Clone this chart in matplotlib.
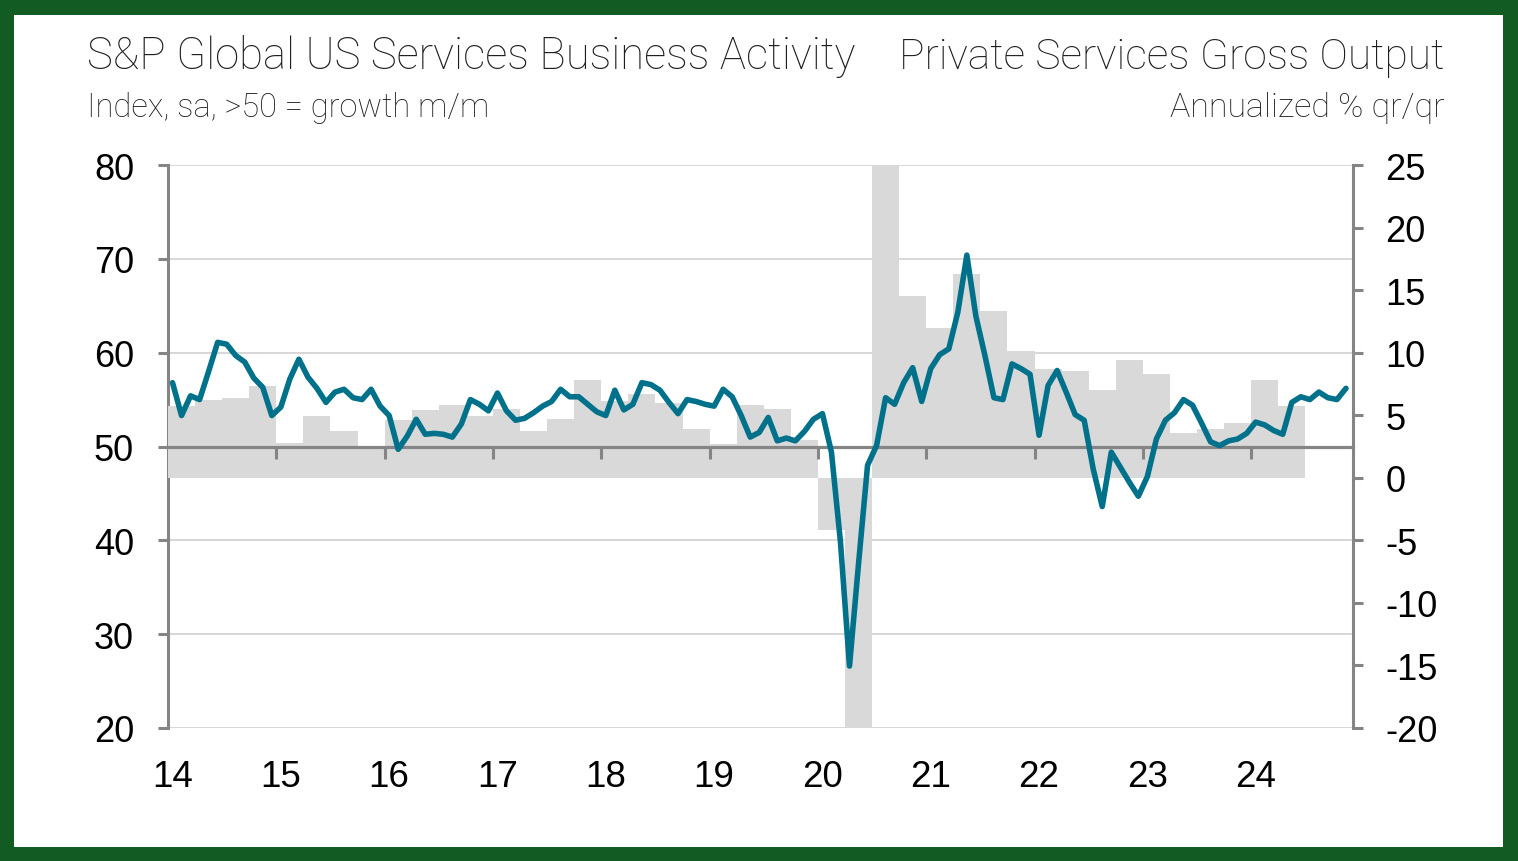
import matplotlib
matplotlib.use("Agg")
import matplotlib.pyplot as plt
from matplotlib.patches import Rectangle
from matplotlib.ticker import NullFormatter

plt.rcParams["axes.unicode_minus"] = False

# ---------------- data ----------------
start_year = 2014
# S&P Global US Services Business Activity Index, monthly Jan 2014 - Nov 2024
pmi_2014 = [56.8, 53.3, 55.4, 55.0, 58.0, 61.1, 60.9, 59.7, 59.0, 57.3, 56.3, 53.3]
pmi_2015 = [54.2, 57.2, 59.3, 57.4, 56.2, 54.7, 55.8, 56.1, 55.2, 55.0, 56.1, 54.3]
pmi_2016 = [53.3, 49.7, 51.1, 52.9, 51.3, 51.4, 51.3, 51.0, 52.4, 55.0, 54.5, 53.8]
pmi_2017 = [55.7, 53.8, 52.8, 53.0, 53.6, 54.3, 54.8, 56.1, 55.3, 55.3, 54.5, 53.7]
pmi_2018 = [53.3, 56.0, 53.9, 54.5, 56.8, 56.6, 56.0, 54.7, 53.5, 55.0, 54.8, 54.5]
pmi_2019 = [54.3, 56.1, 55.3, 53.3, 51.0, 51.5, 53.1, 50.6, 50.9, 50.6, 51.6, 52.9]
pmi_2020 = [53.5, 49.4, 39.8, 26.6, 37.5, 48.0, 50.1, 55.2, 54.5, 56.8, 58.4, 54.8]
pmi_2021 = [58.3, 59.8, 60.4, 64.3, 70.4, 63.9, 59.7, 55.2, 55.0, 58.8, 58.3, 57.7]
pmi_2022 = [51.2, 56.5, 58.1, 55.8, 53.4, 52.8, 47.6, 43.6, 49.4, 47.8, 46.2, 44.7]
pmi_2023 = [46.8, 50.8, 52.8, 53.6, 55.0, 54.4, 52.5, 50.5, 50.1, 50.6, 50.8, 51.4]
pmi_2024 = [52.6, 52.3, 51.7, 51.3, 54.7, 55.3, 55.0, 55.8, 55.2, 55.0, 56.2]
pmi = (pmi_2014 + pmi_2015 + pmi_2016 + pmi_2017 + pmi_2018 + pmi_2019 +
       pmi_2020 + pmi_2021 + pmi_2022 + pmi_2023 + pmi_2024)

# Private services gross output, annualized % q/q, 2014Q1 - 2024Q2
gross_output = [5.7, 6.2, 6.35, 7.3,
                2.8, 4.9, 3.7, 2.5,
                4.6, 5.4, 5.8, 4.9,
                5.5, 3.7, 4.7, 7.8,
                6.1, 6.7, 6.0, 3.9,
                2.7, 5.8, 5.5, 3.0,
                -4.15, -25.0, 35.0, 14.5,
                12.0, 16.3, 13.3, 10.1,
                8.7, 8.5, 7.0, 9.4,
                8.3, 3.6, 3.9, 4.4,
                7.8, 5.7]

year_labels = ["14", "15", "16", "17", "18", "19", "20", "21", "22", "23", "24"]
left_ticks = [20, 30, 40, 50, 60, 70, 80]
right_ticks = [-20, -15, -10, -5, 0, 5, 10, 15, 20, 25]

title_left = "S&P Global US Services Business Activity"
subtitle_left = "Index, sa, >50 = growth m/m"
title_right = "Private Services Gross Output"
subtitle_right = "Annualized % qr/qr"

# ---------------- style ----------------
W, H = 1518, 862
GREEN = "#125b23"
TEAL = "#00718a"
BAR = "#d9d9d9"
GRID = "#d4d4d4"
AXIS = "#858585"
TXT = "#1e1e1e"

fig = plt.figure(figsize=(W / 100, H / 100), dpi=100)
fig.patch.set_facecolor(GREEN)
fig.add_artist(Rectangle((14 / W, 14 / H), (1503 - 14) / W, (846 - 14) / H,
                         transform=fig.transFigure, facecolor="white",
                         edgecolor="none", zorder=0))

x_left, x_right, y_top, y_bot = 168, 1353, 166, 729
rect = [x_left / W, (H - y_bot) / H, (x_right - x_left) / W, (y_bot - y_top) / H]

month_x = [start_year + (i + 0.5) / 12 for i in range(len(pmi))]
quarter_x = [start_year + q * 0.25 for q in range(len(gross_output))]
label_x = [start_year + i + 0.5 / 12 for i in range(len(year_labels))]
boundary_x = [start_year + i for i in range(1, len(year_labels))]
xlim = (start_year, start_year + len(year_labels) - 0.06)

# bottom layer: grid + left axis + year labels
ax = fig.add_axes(rect)
ax.set_xlim(*xlim)
ax.set_ylim(left_ticks[0], left_ticks[-1])
ax.patch.set_visible(False)
for s in ["top", "right", "bottom"]:
    ax.spines[s].set_visible(False)
ax.spines["left"].set_color(AXIS)
ax.spines["left"].set_linewidth(2.2)
ax.set_yticks(left_ticks)
ax.yaxis.grid(True, color=GRID, linewidth=1.3)
ax.set_axisbelow(True)
ax.tick_params(axis="y", which="major", direction="out", length=7.4, width=2.2,
               color=AXIS, pad=17, labelsize=26, labelcolor="black")
ax.set_xticks(label_x)
ax.set_xticklabels(year_labels)
ax.tick_params(axis="x", length=0, pad=22, labelsize=26.5, labelcolor="black")
for lab in ax.get_xticklabels() + ax.get_yticklabels():
    lab.set_fontfamily("Liberation Sans")

# middle layer: bars on right axis
axb = ax.twinx()
axb.set_ylim(right_ticks[0], right_ticks[-1])
axb.patch.set_visible(False)
for s in ["top", "left", "bottom"]:
    axb.spines[s].set_visible(False)
axb.spines["right"].set_color(AXIS)
axb.spines["right"].set_linewidth(2.2)
axb.bar(quarter_x, gross_output, width=0.25, align="edge", color=BAR,
        edgecolor="none", zorder=1)
axb.set_yticks(right_ticks)
axb.tick_params(axis="y", direction="out", length=7.4, width=2.2, color=AXIS,
                pad=16, labelsize=26, labelcolor="black")
for lab in axb.get_yticklabels():
    lab.set_fontfamily("Liberation Sans")

# top layer: PMI line + 50 axis
axl = ax.twinx()
axl.set_ylim(left_ticks[0], left_ticks[-1])
axl.patch.set_visible(False)
for s in axl.spines.values():
    s.set_visible(False)
axl.set_yticks([])
axl.plot(month_x, pmi, color=TEAL, linewidth=4.0, solid_joinstyle="round",
         solid_capstyle="round", zorder=3)

mid = (50 - left_ticks[0]) / (left_ticks[-1] - left_ticks[0])
sec = axl.secondary_xaxis(mid)
sec.set_alignment("bottom")
sec.spines["bottom"].set_color(AXIS)
sec.spines["bottom"].set_linewidth(2.3)
sec.set_xticks(boundary_x)
sec.xaxis.set_major_formatter(NullFormatter())
sec.tick_params(axis="x", direction="out", length=8.6, width=2.2, color=AXIS)

# ---------------- titles ----------------
renderer = fig.canvas.get_renderer()


def fit_text(x_px, base_px, s, target_w, ha, size0):
    t = fig.text(x_px / W, (H - base_px) / H, s, ha=ha, va="baseline",
                 fontsize=size0, color=TXT, fontfamily="Roboto",
                 fontweight="light")
    w = t.get_window_extent(renderer).width
    t.set_fontsize(size0 * target_w / w)
    return t


fit_text(87, 69, title_left, 769, "left", 28)
fit_text(1444, 69, title_right, 547, "right", 28)
fit_text(87, 117, subtitle_left, 402, "left", 22)
fit_text(1444, 117, subtitle_right, 274, "right", 22)

fig.savefig("out.png", dpi=100, facecolor=fig.get_facecolor())
